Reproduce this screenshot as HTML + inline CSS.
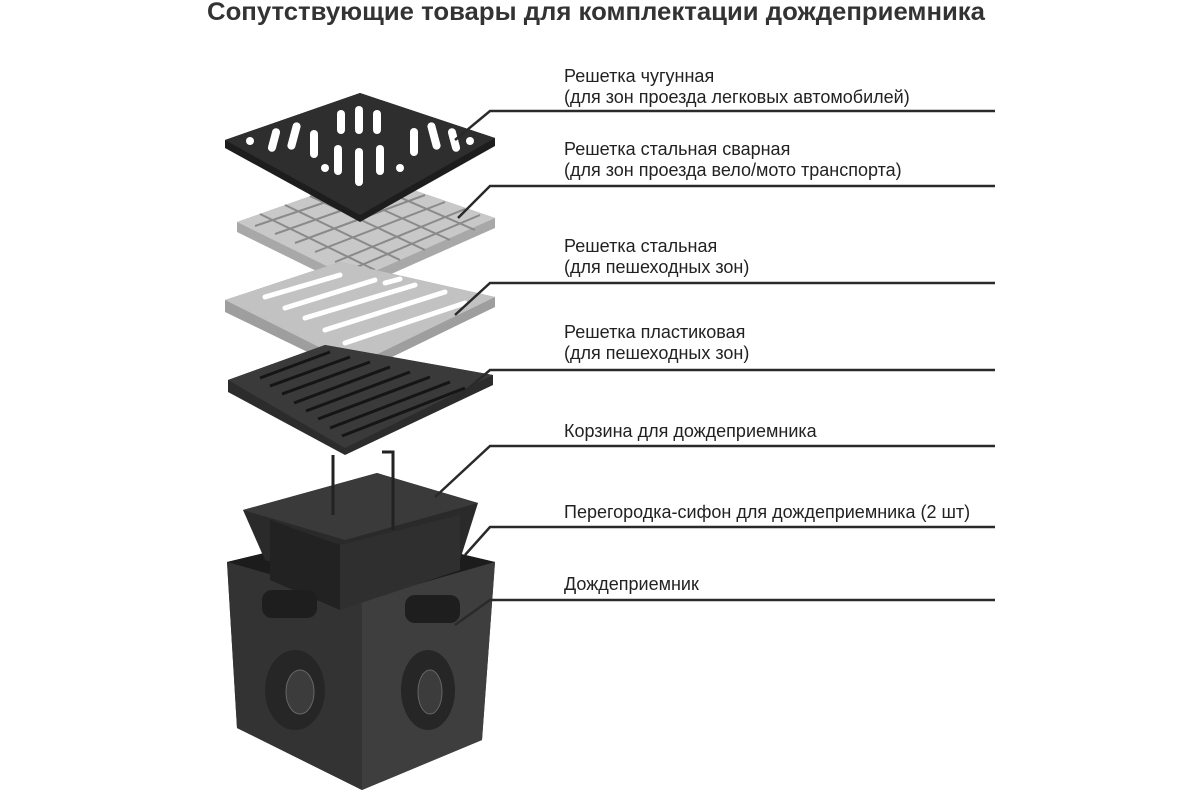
<!DOCTYPE html>
<html><head><meta charset="utf-8"><style>
body{margin:0;background:#fff;width:1200px;height:800px;overflow:hidden;font-family:"Liberation Sans",sans-serif}
</style></head><body>
<svg width="1200" height="800" viewBox="0 0 1200 800" xmlns="http://www.w3.org/2000/svg" font-family="Liberation Sans, sans-serif">
<text x="207" y="20" font-size="25" font-weight="bold" fill="#333" textLength="778" lengthAdjust="spacingAndGlyphs">Сопутствующие товары для комплектации дождеприемника</text>
<g font-size="18" fill="#222">
<text x="564" y="82">Решетка чугунная</text>
<text x="564" y="103">(для зон проезда легковых автомобилей)</text>
<text x="564" y="155">Решетка стальная сварная</text>
<text x="564" y="176">(для зон проезда вело/мото транспорта)</text>
<text x="564" y="252">Решетка стальная</text>
<text x="564" y="273">(для пешеходных зон)</text>
<text x="564" y="338">Решетка пластиковая</text>
<text x="564" y="359">(для пешеходных зон)</text>
<text x="564" y="437">Корзина для дождеприемника</text>
<text x="564" y="518">Перегородка-сифон для дождеприемника (2 шт)</text>
<text x="564" y="590">Дождеприемник</text>
</g>
<!-- welded grate -->
<polygon points="237,222 370,175 495,218 495,228 355,290 237,232" fill="#a8a8a8"/>
<polygon points="237,222 370,175 495,218 355,280" fill="#c8c8c8"/>
<g stroke="#8a8a8a" stroke-width="2">
<line x1="255" y1="226" x2="385" y2="182"/><line x1="275" y1="234" x2="405" y2="188"/><line x1="295" y1="243" x2="425" y2="195"/><line x1="315" y1="252" x2="445" y2="202"/><line x1="335" y1="262" x2="465" y2="209"/><line x1="345" y1="272" x2="480" y2="215"/>
<line x1="260" y1="214" x2="375" y2="270"/><line x1="285" y1="205" x2="400" y2="260"/><line x1="310" y1="196" x2="425" y2="250"/><line x1="335" y1="188" x2="450" y2="240"/><line x1="360" y1="180" x2="475" y2="230"/>
</g>
<!-- cast iron grate -->
<polygon points="225,140 360,93 495,138 495,146 360,222 225,148" fill="#1d1d1d"/>
<polygon points="225,140 360,93 495,138 360,215" fill="#2e2e2e"/>
<g fill="#fff">
<rect x="337" y="110" width="8" height="24" rx="4"/><rect x="355" y="106" width="8" height="28" rx="4"/><rect x="373" y="110" width="8" height="24" rx="4"/>
<rect x="334" y="145" width="8" height="30" rx="4"/><rect x="355" y="148" width="8" height="38" rx="4"/><rect x="376" y="145" width="8" height="30" rx="4"/>
<rect x="270" y="128" width="8" height="24" rx="4" transform="rotate(15 274 140)"/><rect x="290" y="122" width="8" height="28" rx="4" transform="rotate(15 294 136)"/><rect x="310" y="130" width="8" height="28" rx="4"/>
<rect x="410" y="128" width="8" height="28" rx="4"/><rect x="430" y="122" width="8" height="28" rx="4" transform="rotate(-15 434 136)"/><rect x="450" y="128" width="8" height="24" rx="4" transform="rotate(-15 454 140)"/>
<circle cx="250" cy="141" r="4"/><circle cx="470" cy="141" r="4"/><circle cx="325" cy="168" r="4"/><circle cx="400" cy="168" r="4"/>
</g>
<!-- steel grate -->
<polygon points="225,300 340,262 495,297 495,307 355,375 225,312" fill="#9e9e9e"/>
<polygon points="225,300 340,262 495,297 355,365" fill="#c2c2c2"/>
<g stroke="#fff" stroke-width="5" stroke-linecap="round">
<line x1="265" y1="297" x2="340" y2="275"/><line x1="285" y1="308" x2="375" y2="280"/><line x1="305" y1="318" x2="415" y2="285"/><line x1="325" y1="330" x2="445" y2="292"/><line x1="345" y1="343" x2="465" y2="303"/><line x1="385" y1="283" x2="400" y2="279"/>
</g>
<!-- plastic grate -->
<polygon points="228,380 325,345 493,375 493,385 345,455 228,392" fill="#2c2c2c"/>
<polygon points="228,380 325,345 493,375 345,448" fill="#3a3a3a"/>
<g stroke="#151515" stroke-width="3">
<line x1="260" y1="378" x2="330" y2="352"/><line x1="270" y1="386" x2="350" y2="357"/><line x1="282" y1="394" x2="370" y2="362"/><line x1="294" y1="403" x2="390" y2="367"/><line x1="306" y1="411" x2="410" y2="372"/><line x1="318" y1="419" x2="430" y2="377"/><line x1="330" y1="428" x2="450" y2="382"/><line x1="342" y1="436" x2="465" y2="388"/>
</g>
<!-- box -->
<polygon points="227,562 360,530 495,562 482,740 362,790 237,728" fill="#353535"/>
<polygon points="362,600 495,562 482,740 362,790" fill="#3e3e3e"/>
<polygon points="227,562 362,600 362,790 237,728" fill="#333"/>
<polygon points="227,562 360,530 495,562 362,600" fill="#1c1c1c"/>
<!-- basket / siphon -->
<polygon points="243,510 377,473 478,503 460,560 362,590 265,560" fill="#2a2a2a"/>
<polygon points="243,510 377,473 478,503 345,540" fill="#3a3a3a"/>
<polygon points="270,520 340,545 340,610 270,580" fill="#222"/>
<polygon points="340,545 460,515 460,570 340,610" fill="#2f2f2f"/>
<path d="M333,455 V515 M382,452 H393 V530" stroke="#222" stroke-width="3" fill="none"/>
<!-- pipes -->
<g fill="#262626"><ellipse cx="295" cy="690" rx="30" ry="40"/><ellipse cx="428" cy="690" rx="27" ry="40"/></g>
<g fill="#3c3c3c" stroke="#666"><ellipse cx="300" cy="692" rx="14" ry="22"/><ellipse cx="430" cy="692" rx="12" ry="22"/></g>
<g fill="#1e1e1e"><rect x="262" y="590" width="55" height="28" rx="10"/><rect x="405" y="595" width="55" height="28" rx="10"/></g>
<!-- leader lines -->
<g stroke="#2a2a2a" stroke-width="2.5" fill="none">
<polyline points="455,140 490,111 995,111"/>
<polyline points="458,218 490,186 995,186"/>
<polyline points="455,315 490,283 995,283"/>
<polyline points="455,400 490,370 995,370"/>
<polyline points="435,497 490,446 995,446"/>
<polyline points="465,555 490,527 995,527"/>
<polyline points="455,625 490,600 995,600"/>
</g>
</svg>
</body></html>
